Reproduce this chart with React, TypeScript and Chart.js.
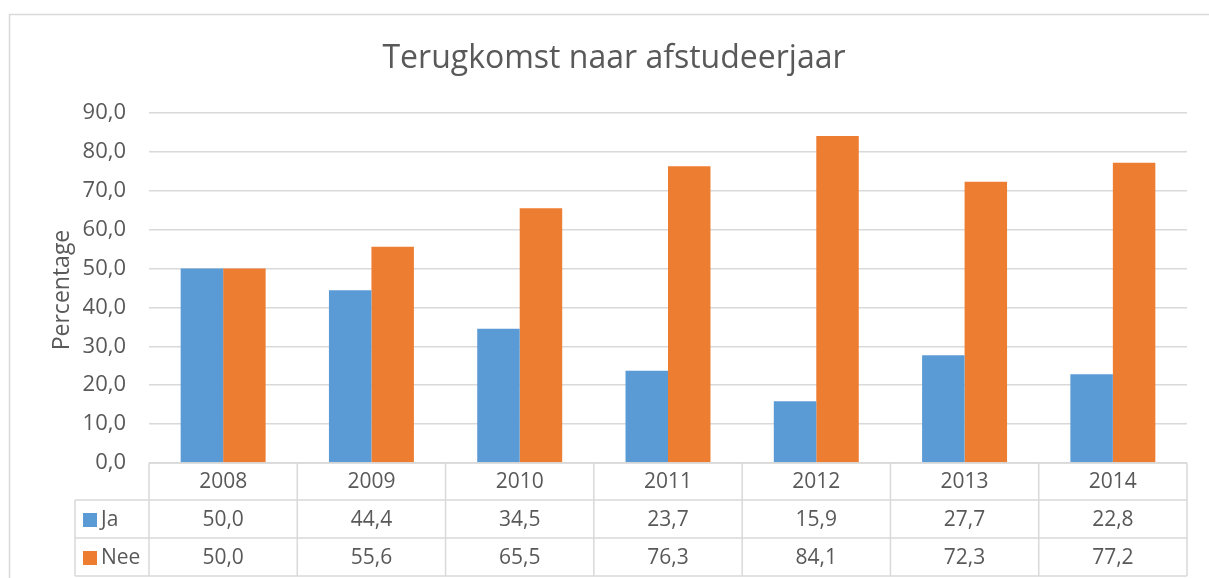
import React, { useEffect, useRef } from "react";
import { Chart, registerables } from "chart.js";

Chart.register(...registerables);

const TITLE = "Terugkomst naar afstudeerjaar";
const Y_TITLE = "Percentage";
const years = ["2008", "2009", "2010", "2011", "2012", "2013", "2014"];
const jaValues = [50.0, 44.4, 34.5, 23.7, 15.9, 27.7, 22.8];
const neeValues = [50.0, 55.6, 65.5, 76.3, 84.1, 72.3, 77.2];
const seriesNames = ["Ja", "Nee"];
const seriesColors = ["#5B9BD5", "#ED7D31"];

const FONT = "'Open Sans', sans-serif";
const TEXT = "#595959";
const GRID = "#d9d9d9";

const fmt = (v: number) => v.toFixed(1).replace(".", ",");

const decorPlugin = {
  id: "decor",
  afterDraw(chart: any) {
    const { ctx, chartArea } = chart;
    const x = chart.scales.x;
    const n = years.length;
    const left = chartArea.left;
    const right = chartArea.right;
    const catW = (right - left) / n;
    ctx.save();
    // outer border
    ctx.strokeStyle = GRID;
    ctx.lineWidth = 1.5;
    ctx.strokeRect(9.5, 14.5, 1220, 620);
    // title
    ctx.fillStyle = TEXT;
    ctx.font = `32px ${FONT}`;
    ctx.textAlign = "center";
    ctx.textBaseline = "middle";
    ctx.fillText(TITLE, 614, 59);
    // y axis title
    ctx.save();
    ctx.translate(62, 290);
    ctx.rotate(-Math.PI / 2);
    ctx.font = `23px ${FONT}`;
    ctx.fillText(Y_TITLE, 0, 0);
    ctx.restore();
    // data table
    const top = chartArea.bottom;
    const r1 = top + 37;
    const r2 = r1 + 38;
    const r3 = r2 + 38;
    const tl = 75;
    ctx.strokeStyle = GRID;
    ctx.lineWidth = 1.5;
    ctx.beginPath();
    ctx.moveTo(left, top); ctx.lineTo(right, top);
    ctx.moveTo(tl, r1); ctx.lineTo(right, r1);
    ctx.moveTo(tl, r2); ctx.lineTo(right, r2);
    ctx.moveTo(tl, r3); ctx.lineTo(right, r3);
    ctx.moveTo(tl, r1); ctx.lineTo(tl, r3);
    for (let i = 0; i <= n; i++) {
      const bx = left + i * catW;
      ctx.moveTo(bx, top); ctx.lineTo(bx, r3);
    }
    ctx.stroke();
    ctx.font = `21px ${FONT}`;
    ctx.fillStyle = TEXT;
    ctx.textAlign = "center";
    ctx.textBaseline = "middle";
    const rows = [jaValues, neeValues];
    years.forEach((yr, i) => {
      const cx = x.getPixelForValue(i);
      ctx.fillText(yr, cx, (top + r1) / 2 + 1);
      ctx.fillText(fmt(rows[0][i]), cx, (r1 + r2) / 2 + 1);
      ctx.fillText(fmt(rows[1][i]), cx, (r2 + r3) / 2 + 1);
    });
    const rowMids = [(r1 + r2) / 2, (r2 + r3) / 2];
    seriesNames.forEach((name, k) => {
      ctx.fillStyle = seriesColors[k];
      ctx.fillRect(83, rowMids[k] - 6, 14, 14);
      ctx.fillStyle = TEXT;
      ctx.textAlign = "left";
      ctx.fillText(name, 101, rowMids[k] + 1);
    });
    ctx.restore();
  },
};

export default function App() {
  const ref = useRef<HTMLCanvasElement>(null);
  useEffect(() => {
    if (!ref.current) return;
    const chart = new Chart(ref.current, {
      type: "bar",
      data: {
        labels: years,
        datasets: [
          { label: seriesNames[0], data: jaValues, backgroundColor: seriesColors[0] },
          { label: seriesNames[1], data: neeValues, backgroundColor: seriesColors[1] },
        ],
      },
      options: {
        animation: false,
        responsive: true,
        maintainAspectRatio: false,
        layout: { padding: { left: 0, right: 22, top: 113, bottom: 115 } },
        datasets: { bar: { categoryPercentage: 0.573, barPercentage: 1 } },
        plugins: { legend: { display: false }, title: { display: false }, tooltip: { enabled: false } },
        scales: {
          x: { display: false },
          y: {
            min: 0,
            max: 90,
            ticks: {
              stepSize: 10,
              padding: 23,
              color: TEXT,
              font: { family: FONT, size: 22 },
              callback: (v: any) => fmt(Number(v)),
            },
            grid: { color: GRID, lineWidth: 1.5, drawTicks: false },
            border: { display: false },
            afterFit: (s: any) => { s.width = 149; },
          },
        },
      },
      plugins: [decorPlugin],
    });
    return () => chart.destroy();
  }, []);
  return (
    <div style={{ position: "fixed", left: 0, top: 0, width: 1209, height: 578, background: "#fff" }}>
      <canvas ref={ref} />
    </div>
  );
}
